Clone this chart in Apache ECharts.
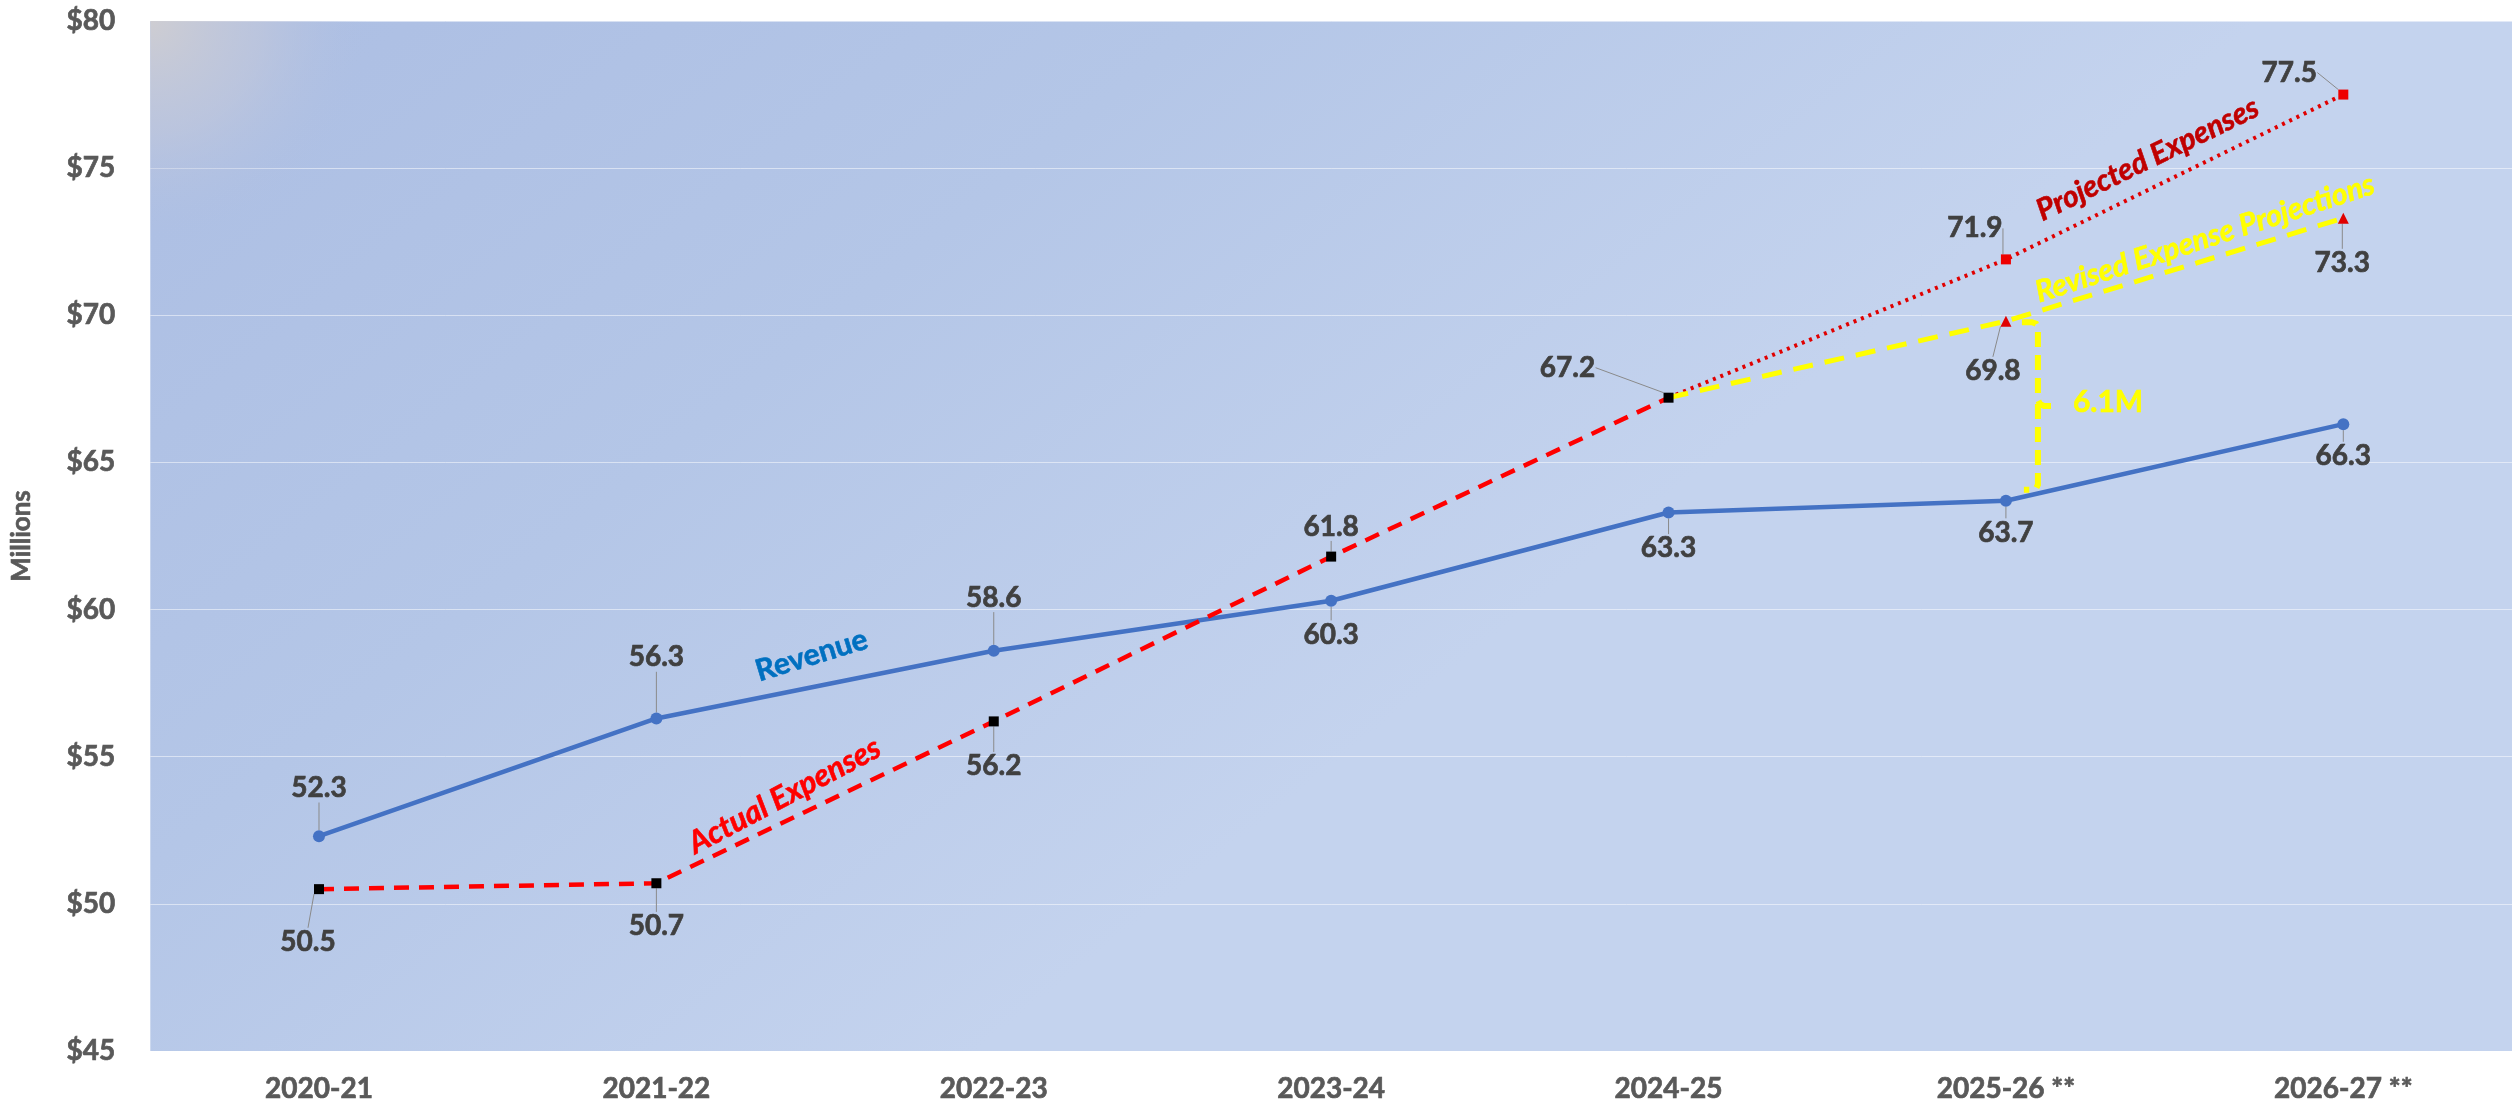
<!DOCTYPE html>
<html><head><meta charset="utf-8">
<script src="https://cdn.jsdelivr.net/npm/echarts@6/dist/echarts.min.js"></script>
<style>html,body{margin:0;padding:0;background:#fff}#c{width:2512px;height:1107px}</style>
</head><body><div id="c"></div>
<script>
// ---- data ----
const categories = ['2020-21','2021-22','2022-23','2023-24','2024-25','2025-26 **','2026-27 **'];
const revenue = [52.3, 56.3, 58.6, 60.3, 63.3, 63.7, 66.3];
const actualExpenses = [50.5, 50.7, 56.2, 61.8, 67.2, null, null];
const projectedExpenses = [null, null, null, null, 67.2, 71.9, 77.5];
const revisedProjections = [null, null, null, null, 67.2, 69.8, 73.3];
const yMin = 45, yMax = 80, yStep = 5;
const gapText = '6.1M';

// ---- label layout (styling, not data) ----
const revOff = [[0,-48],[0,-61],[0,-53],[0,34],[0,36],[0,32],[0,32]];
const actOff = [[-11,53],[0,43],[0,45],[0,-30],[-101,-30]];
const projOff = [null,null,null,null,null,[-31,-31],[-54,-22]];
const revisedOff = [null,null,null,null,null,[-13,50],[-1,45]];

(function(){
const FONT = 'Lato, "Open Sans", sans-serif';
const labelBase = {show:true, position:'inside', fontFamily:FONT, fontWeight:'bold', fontSize:28, color:'#404040',
  textBorderColor:'#404040', textBorderWidth:0.7};
const guide = {show:true, length2:0, lineStyle:{color:'#8a8a8a', width:1}};
function layoutFrom(arr){ return p => { const o = arr[p.dataIndex]; return o ? {dx:o[0], dy:o[1]} : {}; }; }
function tail(arr){
  return arr.map((v,i) => v == null ? null : (i === 4 ? {value:v, symbol:'none', label:{show:false}} : {value:v}));
}
const axisText = {fontFamily:FONT, fontWeight:'bold', fontSize:28, color:'#595959', textBorderColor:'#595959', textBorderWidth:0.7};

const chart = echarts.init(document.getElementById('c'), null, {renderer:'canvas'});
chart.setOption({
  animation:false,
  backgroundColor:'#ffffff',
  grid:{left:143, right:0, top:21, bottom:56, show:true, borderWidth:0,
    backgroundColor:{type:'linear', x:0, y:0, x2:0.35, y2:1, colorStops:[
      {offset:0, color:'#acbee3'}, {offset:0.5, color:'#b4c6e7'}, {offset:1, color:'#c4d3ee'}]}},
  xAxis:{type:'category', data:categories, boundaryGap:true,
    axisLine:{show:false}, axisTick:{show:false},
    axisLabel:Object.assign({margin:24}, axisText)},
  yAxis:{type:'value', min:yMin, max:yMax, interval:yStep,
    name:'Millions', nameLocation:'middle', nameRotate:90, nameGap:116,
    nameTextStyle:{fontFamily:FONT, fontWeight:'bold', fontSize:26, color:'#595959', textBorderColor:'#595959', textBorderWidth:0.6},
    axisLine:{show:false}, axisTick:{show:false},
    axisLabel:Object.assign({margin:35, formatter:'${value}'}, axisText),
    splitLine:{lineStyle:{color:'rgba(255,255,255,0.5)', width:1}}},
  series:[
    {name:'Projected Expenses', type:'line', z:3, data:tail(projectedExpenses),
      symbol:'rect', symbolSize:10, itemStyle:{color:'#ee0000'},
      lineStyle:{color:'#e00000', width:4, type:[3,5]},
      label:labelBase, labelLine:guide, labelLayout:layoutFrom(projOff)},
    {name:'Revised Expense Projections', type:'line', z:3, data:tail(revisedProjections),
      symbol:'triangle', symbolSize:11, itemStyle:{color:'#e00000'},
      lineStyle:{color:'#ffff00', width:5, type:[20,12]},
      label:labelBase, labelLine:guide, labelLayout:layoutFrom(revisedOff)},
    {name:'Revenue', type:'line', z:4, data:revenue,
      symbol:'circle', symbolSize:12, itemStyle:{color:'#4472c4'},
      lineStyle:{color:'#4472c4', width:4.5},
      label:labelBase, labelLine:guide, labelLayout:layoutFrom(revOff)},
    {name:'Actual Expenses', type:'line', z:5, data:actualExpenses,
      symbol:'rect', symbolSize:10, itemStyle:{color:'#000000'},
      lineStyle:{color:'#ff0000', width:4.5, type:[15,10]},
      label:labelBase, labelLine:guide, labelLayout:layoutFrom(actOff)}
  ]
});

// ---- annotations positioned from data ----
const px = (i, v) => chart.convertToPixel({xAxisIndex:0, yAxisIndex:0}, [i, v]);
const lerp = (a, b, t) => [a[0] + (b[0]-a[0])*t, a[1] + (b[1]-a[1])*t];
function seriesText(txt, a, b, t, dy, rotDeg, color, italic, size){
  const c = lerp(a, b, t);
  return {type:'text', x:c[0], y:c[1]+dy, rotation:rotDeg*Math.PI/180, z:10,
    style:{text:txt, fontFamily:FONT, fontWeight:'bold', fontStyle:italic?'italic':'normal', fontSize:size,
      fill:color, stroke:color, lineWidth:0.6, align:'center', verticalAlign:'middle'}};
}
const r1 = px(1, revenue[1]), r2 = px(2, revenue[2]);
const a1 = px(1, actualExpenses[1]), a2 = px(2, actualExpenses[2]);
const p1 = px(5, projectedExpenses[5]), p2 = px(6, projectedExpenses[6]);
const v1 = px(5, revisedProjections[5]), v2 = px(6, revisedProjections[6]);
const rv = px(5, revenue[5]);
const g0 = px(0, yMax);
const gridX = g0[0] - (px(1, yMax)[0] - g0[0]) / 2, gridY = g0[1];

const bx = v1[0] + 32, bTop = v1[1] + 1, bBot = rv[1] - 11, bMid = (bTop + bBot) / 2;
const upper = [[bx-16,bTop],[bx-6,bTop],[bx-2,bTop+1.5],[bx,bTop+6],[bx,bMid-6],[bx+2,bMid-2],[bx+6,bMid],[bx+18,bMid]];
const lower = [[bx,bMid-2],[bx,bBot-5],[bx-2,bBot-1],[bx-6,bBot],[bx-14,bBot]];
const bStyle = {stroke:'#ffff00', lineWidth:6, fill:null, lineDash:[15,8]};

chart.setOption({graphic:[
  {type:'rect', x:gridX, y:gridY, z:1, silent:true, shape:{width:320, height:320},
    style:{fill:{type:'radial', x:0, y:0, r:0.7, colorStops:[
      {offset:0, color:'rgba(206,205,210,1)'}, {offset:0.5, color:'rgba(195,200,218,0.6)'}, {offset:1, color:'rgba(174,191,227,0)'}]}}},
  seriesText('Revenue', r1, r2, 0.46, -32, 17, '#0070c0', false, 30),
  seriesText('Actual Expenses', a1, a2, 0.38, -26, 28, '#ff0000', true, 31),
  seriesText('Projected Expenses', p1, p2, 0.42, -31, 26, '#c00000', true, 30),
  seriesText('Revised Expense Projections', v1, v2, 0.59, -22, 18, '#ffff00', true, 30),
  {type:'polyline', z:10, shape:{points:upper}, style:bStyle},
  {type:'polyline', z:10, shape:{points:lower}, style:bStyle},
  {type:'text', x:bx+35, y:bMid-4, z:10,
    style:{text:gapText, fontFamily:FONT, fontWeight:'bold', fontSize:30, fill:'#ffff00', stroke:'#ffff00', lineWidth:0.6, align:'left', verticalAlign:'middle'}}
]});
})();
</script></body></html>
